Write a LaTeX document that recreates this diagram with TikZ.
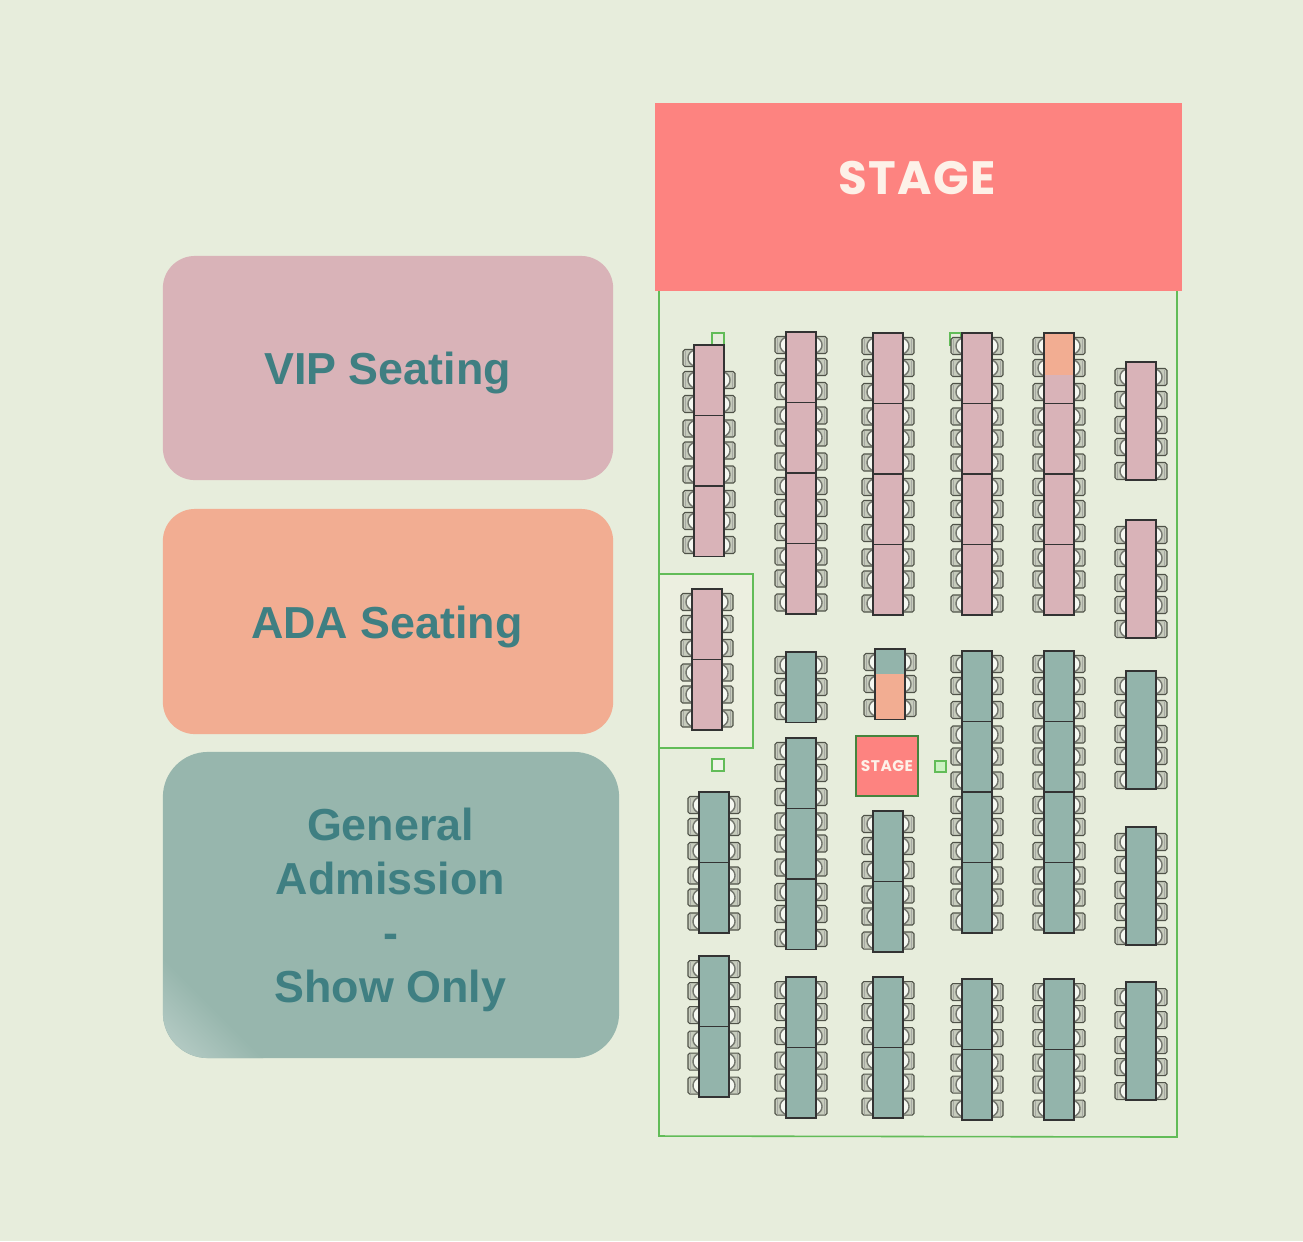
\documentclass[tikz,border=0pt]{standalone}
\usepackage{fontspec}
\setmainfont{Liberation Sans}
\newfontfamily\stagefont[LetterSpace=3]{Poppins}
\usepackage{xcolor}
\definecolor{pagebg}{HTML}{E7EDDC}
\definecolor{stagered}{HTML}{FD8380}
\definecolor{floorgreen}{HTML}{62BC58}
\definecolor{vipfill}{HTML}{D9B3B8}
\definecolor{adafill}{HTML}{F2AD92}
\definecolor{gafill}{HTML}{93B4AB}
\definecolor{gacard}{HTML}{97B6AD}
\definecolor{boxfill}{HTML}{ECEFE0}
\definecolor{legendtext}{HTML}{3F7F82}
\definecolor{seatline}{HTML}{4F5248}
\definecolor{stagetext}{HTML}{FDF1E8}

\tikzset{
  legend/.style={rectangle, minimum width=4.5cm, minimum height=2.24cm, rounded corners=0.32cm},
  legendlabel/.style={align=center, text=legendtext, font=\fontsize{12.75}{15.4}\selectfont\bfseries},
  tabletop/.style={draw=black!80, line width=0.35pt},
  floorline/.style={draw=floorgreen, line width=0.45pt},
  marker/.style={draw=floorgreen, line width=0.45pt},
  seat/.pic={
    \draw[seatline, line width=0.3pt, fill=black!14!pagebg, rounded corners=0.5pt] (0,-8.5) -| (-11,8.5) -- (0,8.5);
    \fill[white!60!pagebg] (0,-8) .. controls (-8,-5) and (-8,5) .. (0,8) -- cycle;
    \draw[seatline!80, line width=0.4pt] (0,-8) .. controls (-8,-5) and (-8,5) .. (0,8);
    \draw[seatline!50, line width=0.25pt] (-8.5,-7.5) -- (-8.5,7.5);
  }
}

% x = left edge, y = top edge, #4 = number of segments
\newcommand{\tablerow}[5][1]{%
  \foreach \s in {1,...,#4}{
    \foreach \c/\off in {1/13,2/35,3/59}{
      \pgfmathsetmacro{\yc}{#3+70.5*(\s-1)+\off}
      \pgfmathtruncatemacro{\idx}{3*(\s-1)+\c}
      \pic at (#2,\yc) {seat};
      \ifnum\idx<#1\else \pic[xscale=-1] at (#2+30,\yc) {seat}; \fi
    }
    \draw[tabletop, fill=#5] (#2,{#3+70.5*(\s-1)}) rectangle ++(30,70.5);
  }
}
% single long table at the right wall
\newcommand{\longtable}[3]{%
  \foreach \off in {15,38,63,85,109}{
    \pic at (#1,#2+\off) {seat};
    \pic[xscale=-1] at (#1+30,#2+\off) {seat};
  }
  \draw[tabletop, fill=#3] (#1,#2) rectangle ++(30,118);
}

\begin{document}
\begin{tikzpicture}[x=0.01cm, y=-0.01cm]
\useasboundingbox (0,0) rectangle (1303,1241);
\fill[pagebg] (0,0) rectangle (1303,1241);

% Legend
\node[legend, fill=vipfill] (vip) at (388,368) {};
\node[legend, fill=adafill, minimum height=2.25cm] (ada) at (388,621.5) {};
\node[legend, fill=gacard, minimum width=4.56cm, minimum height=3.06cm, rounded corners=0.45cm] (ga) at (391,905) {};
\begin{scope}
  \clip[rounded corners=0.45cm] (163,752) rectangle (619,1058);
  \shade[shading=axis, top color=gacard, bottom color=white!25!gacard, middle color=gacard, shading angle=-45]
    (163,958) rectangle (263,1058);
\end{scope}
\node[legendlabel] (viplabel) at (387.5,373) {VIP Seating};
\node[legendlabel] (adalabel) at (387,627) {ADA Seating};
\node[legendlabel] (galabel) at (390.5,910) {General\\Admission\\-\\Show Only};

% Floor outline
\draw[floorline] (659,291) -- (659,1136) -- (1177,1137) -- (1177,291);
\node[minimum width=5.27cm, minimum height=1.88cm, fill=stagered] (mainstage) at (918.5,197) {};
\node[text=stagetext, font=\stagefont\fontsize{13.3}{14}\selectfont\bfseries] (mainlabel) at (917,178) {STAGE};
\draw[floorline, fill=boxfill] (659,574) rectangle (753,748);

% Small markers
\draw[marker] (712,333) rectangle (724,345);
\draw[marker] (950,333) rectangle (961,345);
\draw[marker, fill=white!35!pagebg] (712,759) rectangle (724,771);
\draw[marker, fill=white!35!green!20!pagebg] (935,761) rectangle (946,772);

% Left column
\tablerow[2]{694}{345}{3}{vipfill}
\tablerow{692}{589}{2}{vipfill}
\tablerow{699}{792}{2}{gafill}
\tablerow{699}{956}{2}{gafill}

% Second column
\tablerow{786}{332}{4}{vipfill}
\tablerow{786}{652}{1}{gafill}
\tablerow{786}{738}{3}{gafill}
\tablerow{786}{977}{2}{gafill}

% Third column
\tablerow{873}{333}{4}{vipfill}
\tablerow{875}{649}{1}{gafill}
\fill[adafill] (875.7,674) rectangle (904.3,718.8);
\tablerow{873}{811}{2}{gafill}
\tablerow{873}{977}{2}{gafill}

% Fourth column
\tablerow{962}{333}{4}{vipfill}
\tablerow{962}{651}{4}{gafill}
\tablerow{962}{979}{2}{gafill}

% Fifth column
\tablerow{1044}{333}{4}{vipfill}
\fill[adafill] (1044.7,333.7) rectangle (1073.3,375);
\tablerow{1044}{651}{4}{gafill}
\tablerow{1044}{979}{2}{gafill}

% Right wall
\longtable{1126}{362}{vipfill}
\longtable{1126}{520}{vipfill}
\longtable{1126}{671}{gafill}
\longtable{1126}{827}{gafill}
\longtable{1126}{982}{gafill}

% Small stage
\node[draw=floorgreen!70!black, line width=0.45pt, fill=stagered, minimum width=0.62cm, minimum height=0.6cm, inner sep=0pt,
  text=stagetext, font=\stagefont\fontsize{4.4}{5}\selectfont\bfseries] (smallstage) at (887,766) {STAGE};
\end{tikzpicture}
\end{document}
